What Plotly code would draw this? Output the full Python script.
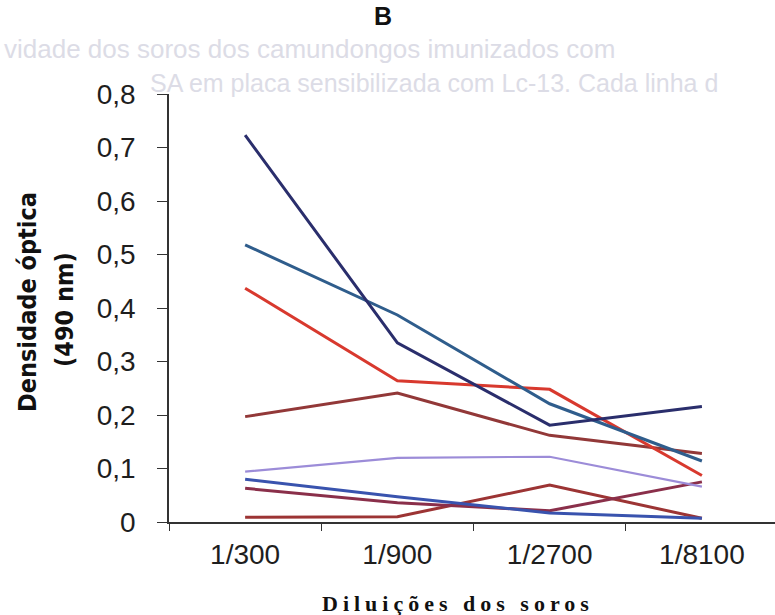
import plotly.graph_objects as go

# ---- data ----
dilutions = ["1/300", "1/900", "1/2700", "1/8100"]
s_navy     = [0.723, 0.335, 0.181, 0.216]
s_steel    = [0.518, 0.387, 0.221, 0.114]
s_red      = [0.437, 0.264, 0.248, 0.087]
s_brown    = [0.197, 0.241, 0.162, 0.128]
s_lavender = [0.094, 0.120, 0.122, 0.066]
s_blue     = [0.080, 0.047, 0.017, 0.007]
s_maroon   = [0.063, 0.036, 0.021, 0.075]
s_brown2   = [0.009, 0.010, 0.069, 0.007]
y_tickvals = [0, 0.1, 0.2, 0.3, 0.4, 0.5, 0.6, 0.7, 0.8]
y_ticktext = ["0", "0,1", "0,2", "0,3", "0,4", "0,5", "0,6", "0,7", "0,8"]

series = [
    (s_brown2, "#9C3434", 3),
    (s_maroon, "#8A2F4A", 3),
    (s_blue, "#3953AE", 3),
    (s_lavender, "#9C8CD8", 2.2),
    (s_brown, "#923838", 3),
    (s_red, "#D8392E", 3),
    (s_steel, "#2F5D8C", 3),
    (s_navy, "#2A2E6C", 3),
]

W, H = 775, 615
L, R, T, B = 169, 0, 94, 93
pw, ph = W - L - R, H - T - B

def px(x):
    return (x - L) / pw

def py(y):
    return (H - B - y) / ph

fig = go.Figure()
for vals, col, w in series:
    fig.add_trace(go.Scatter(x=dilutions, y=vals, mode="lines",
                             line=dict(color=col, width=w), showlegend=False,
                             hoverinfo="skip"))

tick_font = dict(family="Liberation Sans, Arial, sans-serif", size=28, color="#1e1e1e")

fig.update_layout(
    width=W, height=H,
    margin=dict(l=L, r=R, t=T, b=B),
    paper_bgcolor="white", plot_bgcolor="white",
    xaxis=dict(type="category", range=[-0.5, 3.48], showline=True, linecolor="#333",
               linewidth=1.5, ticks="outside", tickson="boundaries", ticklen=7,
               tickcolor="#333", showgrid=False, zeroline=False, tickfont=tick_font,
               ticklabelstandoff=7),
    yaxis=dict(range=[0, 0.8], showline=True, linecolor="#333", linewidth=1.5,
               ticks="outside", ticklen=10, tickcolor="#333", showgrid=False,
               zeroline=False, tickvals=y_tickvals, ticktext=y_ticktext,
               tickfont=tick_font, ticklabelstandoff=16),
)

# faint bleed-through text from the scanned page
ghost = "#DCDCE6"
fig.add_annotation(text="vidade dos soros dos camundongos imunizados com", xref="paper", yref="paper",
                   x=px(2), y=py(49), xanchor="left", yanchor="middle", showarrow=False,
                   font=dict(family="Liberation Sans, Arial", size=26, color=ghost))
fig.add_annotation(text="SA em placa sensibilizada com Lc-13. Cada linha d", xref="paper", yref="paper",
                   x=px(148), y=py(83), xanchor="left", yanchor="middle", showarrow=False,
                   font=dict(family="Liberation Sans, Arial", size=25, color=ghost))

# title
fig.add_annotation(text="<b>B</b>", xref="paper", yref="paper", x=px(383), y=py(16),
                   xanchor="center", yanchor="middle", showarrow=False,
                   font=dict(family="Liberation Sans, Arial", size=25, color="#111"))

# y-axis title (two lines)
ytf = dict(family="Liberation Sans Narrow, DejaVu Sans Condensed, Arial Narrow, sans-serif",
           size=25, color="#111")
fig.add_annotation(text="<b>Densidade óptica</b>", xref="paper", yref="paper",
                   x=px(27), y=py(302), textangle=-90, xanchor="center", yanchor="middle",
                   showarrow=False, font=ytf)
fig.add_annotation(text="<b>(490 nm)</b>", xref="paper", yref="paper",
                   x=px(64), y=py(310), textangle=-90, xanchor="center", yanchor="middle",
                   showarrow=False, font=ytf)

# x-axis title
fig.add_annotation(text="<b><span style='letter-spacing:5px'>Diluições dos soros</span></b>",
                   xref="paper", yref="paper", x=px(458), y=py(603),
                   xanchor="center", yanchor="middle", showarrow=False,
                   font=dict(family="Liberation Serif, Times New Roman, serif", size=22, color="#111"))

fig.write_html("out.html")
